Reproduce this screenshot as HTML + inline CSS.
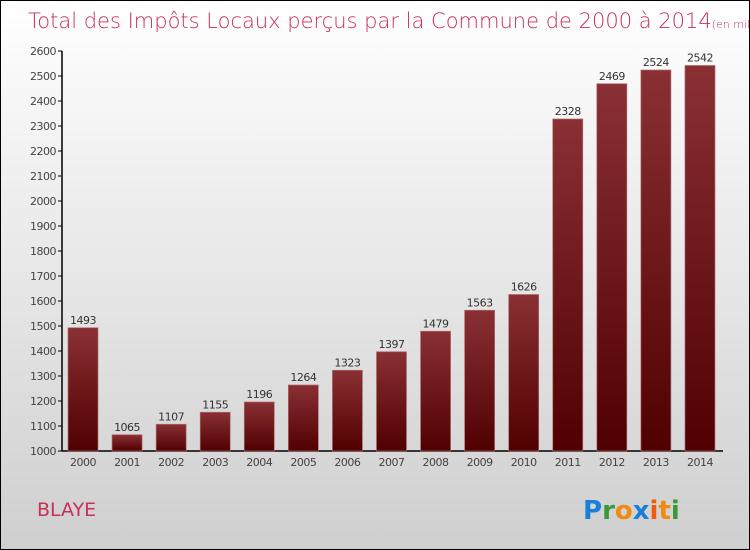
<!DOCTYPE html>
<html><head><meta charset="utf-8"><style>
body{margin:0}
#wrap{width:750px;height:550px;position:relative;overflow:hidden;box-sizing:border-box;border:1px solid #000;background:linear-gradient(#ffffff,#cfcfcf);font-family:"DejaVu Sans","Liberation Sans",sans-serif}
svg{position:absolute;left:0;top:0}
</style></head><body>
<div id="wrap">
<svg id="c" width="750" height="550">
<defs><linearGradient id="bg" x1="0" y1="0" x2="0" y2="1"><stop offset="0" stop-color="#8a3035"/><stop offset="1" stop-color="#500000"/></linearGradient></defs>
<text x="27" y="27" font-size="21" fill="#c8305a" font-family="DejaVu Sans,sans-serif" font-weight="200">Total des Impôts Locaux perçus par la Commune de 2000 à 2014<tspan font-size="11">(en milliers d'€)</tspan></text>
<text x="36" y="515" font-size="19" fill="#c8305a">BLAYE</text>
<text x="582" y="518" font-size="26" font-weight="bold"><tspan fill="#1a7fd6">P</tspan><tspan fill="#3a9a3a">r</tspan><tspan fill="#f08a10">o</tspan><tspan fill="#1a7fd6">x</tspan><tspan fill="#f05a10">i</tspan><tspan fill="#f08a10">t</tspan><tspan fill="#3a9a3a">i</tspan></text>
</svg></div>
<script>
const categories=["2000","2001","2002","2003","2004","2005","2006","2007","2008","2009","2010","2011","2012","2013","2014"];
const values=[1493,1065,1107,1155,1196,1264,1323,1397,1479,1563,1626,2328,2469,2524,2542];
const ticks=[1000,1100,1200,1300,1400,1500,1600,1700,1800,1900,2000,2100,2200,2300,2400,2500,2600];
const svg=document.getElementById('c');const NS='http://www.w3.org/2000/svg';
const y=v=>450-(v-1000)*400/1600;
const x=i=>67+i*44.07;
function mk(t,a,txt){const e=document.createElementNS(NS,t);for(const k in a)e.setAttribute(k,a[k]);if(txt!=null)e.textContent=txt;svg.appendChild(e);return e;}
let e=mk('line',{x1:61,y1:50,x2:61,y2:450,stroke:'#000','stroke-width':1.5});


e=mk('line',{x1:61,y1:450,x2:722,y2:450,stroke:'#000','stroke-width':1.5});


ticks.forEach(t=>{
 e=mk('line',{x1:57,y1:y(t),x2:61,y2:y(t),stroke:'#000'});
 
 
 e=mk('text',{x:55,y:y(t)+4,'font-size':11,'text-anchor':'end',fill:'#444','letter-spacing':'-0.5'},t);
 
 
});
categories.forEach((c,i)=>{
 const v=values[i];
 e=mk('rect',{x:x(i),y:y(v),width:30,height:450-y(v),fill:'url(#bg)',stroke:'#b06a6e','stroke-width':0.7});
 
 
 e=mk('text',{x:x(i)+15,y:y(v)-4,'font-size':11,'text-anchor':'middle',fill:'#333','letter-spacing':'-0.5'},v);
 
 
 e=mk('text',{x:x(i)+15,y:465,'font-size':11,'text-anchor':'middle',fill:'#444','letter-spacing':'-0.5'},c);
 
 
});
</script>
</body></html>
